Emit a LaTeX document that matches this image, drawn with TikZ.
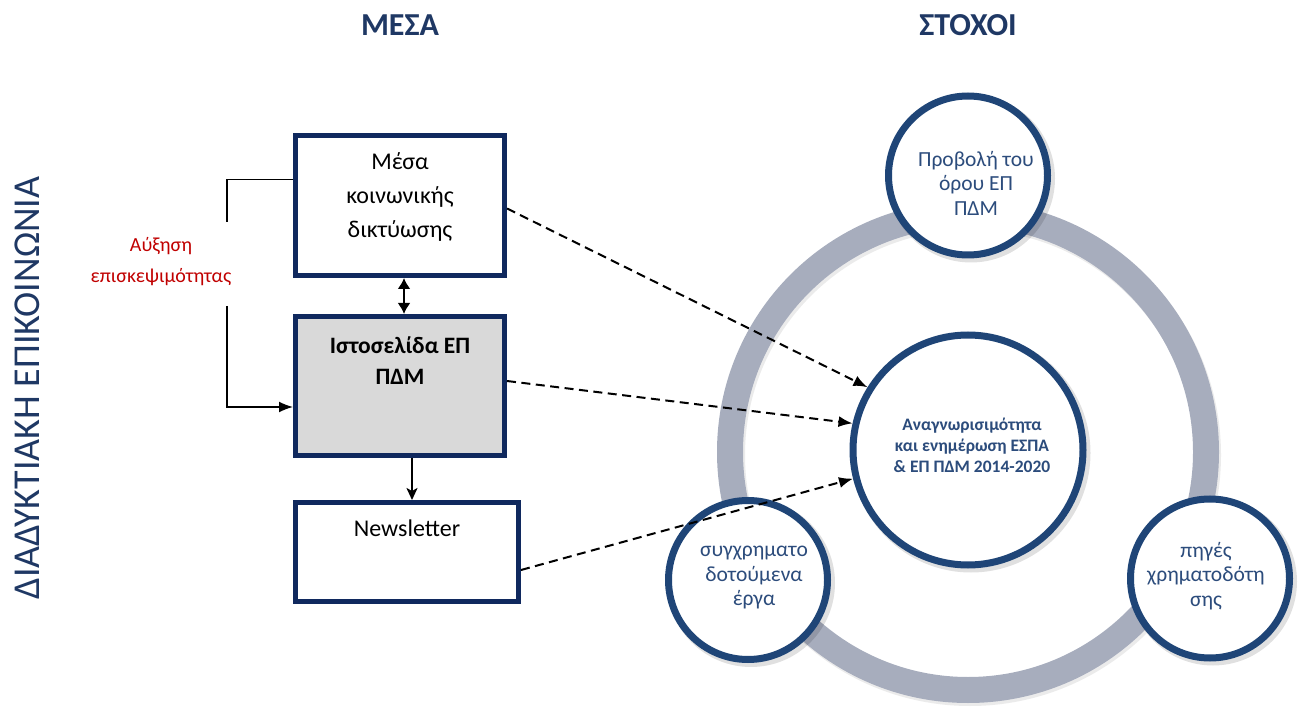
\documentclass[tikz,border=0pt]{standalone}
\usepackage{fontspec}
\setmainfont{Carlito}
\usetikzlibrary{arrows.meta}
\definecolor{navy}{HTML}{10295E}
\definecolor{titlec}{HTML}{1F3864}
\definecolor{cborder}{HTML}{1F4577}
\definecolor{ctext}{HTML}{2C4C7C}
\definecolor{ringc}{HTML}{A7ADBD}
\definecolor{redc}{HTML}{C00000}
\definecolor{boxgray}{HTML}{D9D9D9}
\tikzset{
  box/.style={draw=navy, line width=5pt, rectangle, inner sep=0pt},
  boxtext/.style={anchor=north, align=center, inner sep=0pt, font=\fontsize{24}{34}\selectfont},
  goal/.style={circle, draw=cborder, line width=7pt, fill=white, minimum size=159pt, inner sep=0pt},
  goalshadow/.style={circle, fill=black, opacity=0.12, minimum size=168pt, inner sep=0pt, xshift=3pt, yshift=-3pt},
  goaltext/.style={text=ctext, align=center, inner sep=0pt, font=\fontsize{21.5}{24.5}\selectfont},
  dasharrow/.style={dashed, dash pattern=on 9pt off 5.5pt, line width=2pt, -{Latex[length=14pt,width=11pt]}},
  solidarrow/.style={line width=2pt}
}
\begin{document}
\begin{tikzpicture}[x=1pt,y=-1pt]
\useasboundingbox (0,0) rectangle (1299,708);
% titles
\node[text=titlec, font=\fontsize{32}{36}\selectfont\bfseries] (t1) at (400,25) {ΜΕΣΑ};
\node[text=titlec, font=\fontsize{32}{36}\selectfont\bfseries] (t2) at (968,25) {ΣΤΟΧΟΙ};
\node[text=titlec, rotate=90, font=\fontsize{38}{40}\selectfont] (side) at (27,388) {ΔΙΑΔΥΚΤΙΑΚΗ ΕΠΙΚΟΙΝΩΝΙΑ};
% boxes
\node[box, fill=white, minimum width=209pt, minimum height=140pt] (b1) at (400,205.5) {};
\node[boxtext] (b1t) at (400,152) {Μέσα\\κοινωνικής\\δικτύωσης};
\node[box, fill=boxgray, minimum width=209pt, minimum height=139pt] (b2) at (400,386) {};
\node[boxtext, font=\fontsize{23.5}{31}\selectfont\bfseries] (b2t) at (400,337) {Ιστοσελίδα ΕΠ\\ΠΔΜ};
\node[box, fill=white, minimum width=223pt, minimum height=99pt] (b3) at (407,552) {};
\node[boxtext] (b3t) at (407,520) {Newsletter};
% vertical arrows
\draw[solidarrow, {Latex[length=11pt,width=13pt]}-{Latex[length=11pt,width=13pt]}] ([xshift=4pt]b1.south) -- ([xshift=4pt]b2.north);
\draw[solidarrow, -{Stealth[length=12pt,width=11pt,inset=3pt]}] ([xshift=12pt]b2.south) -- ([xshift=12pt]b2.south |- b3.north);
% bracket
\coordinate (bt) at (227,222);
\coordinate (bb) at (227,306);
\draw[line width=1.6pt] ([yshift=26pt]b1.west) -| (bt);
\draw[line width=1.6pt, -{Latex[length=14pt,width=11pt]}] (bb) |- ([yshift=-21pt]b2.west);
\node[text=redc, align=center, font=\fontsize{20}{31}\selectfont] (inc) at (161,262) {Αύξηση\\επισκεψιμότητας};
% ring and circles
\coordinate (rc) at (968,452);
\draw[black, opacity=0.08, line width=26pt] ([xshift=2pt,yshift=-3pt]rc) circle (238);
\draw[ringc, line width=26pt] (rc) circle (238);
\node[goalshadow, minimum size=239pt] (ctrs) at (968,450) {};
\node[goalshadow] (tops) at (968,175.5) {};
\node[goalshadow] (bls) at (748,580) {};
\node[goalshadow] (brs) at (1210,578.5) {};
\node[goal, minimum size=230pt] (ctr) at (968,450) {};
\node[goal] (top) at (968,175.5) {};
\node[goal] (bl) at (748,580) {};
\node[goal] (br) at (1210,578.5) {};
\node[goaltext, font=\fontsize{17.5}{21}\selectfont\bfseries] (ctrt) at (972,445) {Αναγνωρισιμότητα\\και ενημέρωση ΕΣΠΑ\\\& ΕΠ ΠΔΜ 2014-2020};
\node[goaltext] (topt) at (976,183) {Προβολή του\\όρου ΕΠ\\ΠΔΜ};
\node[goaltext] (blt) at (754,578) {συγχρηματο\\δοτούμενα\\έργα};
\node[goaltext] (brt) at (1206,576) {πηγές\\χρηματοδότη\\σης};
% dashed arrows
\draw[dasharrow] ([yshift=-3pt]b1.east) -- (ctr.148);
\draw[dasharrow] ([yshift=5pt]b2.east) -- (ctr.167);
\draw[dasharrow] ([yshift=-18pt]b3.east) -- (ctr.194);
\end{tikzpicture}
\end{document}
